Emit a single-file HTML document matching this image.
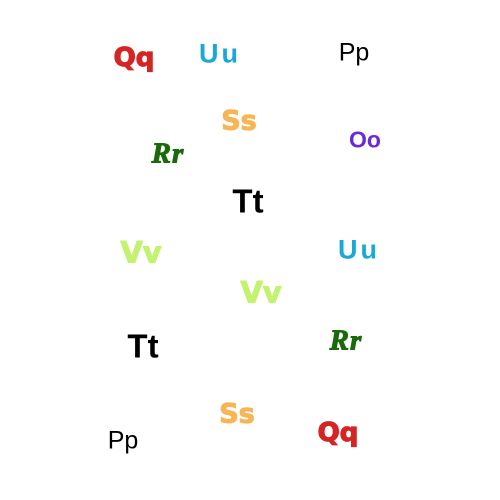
<!DOCTYPE html>
<html><head><meta charset="utf-8"><style>
html,body{margin:0;padding:0;background:#fff;}
#c{position:relative;width:500px;height:500px;overflow:hidden;font-family:"Liberation Sans","DejaVu Sans",sans-serif;}
.t{position:absolute;transform:translate(-50%,-50%);white-space:nowrap;line-height:1;}
.q{color:#d42424;font-weight:900;font-size:26px;font-family:"DejaVu Sans","Liberation Sans",sans-serif;-webkit-text-stroke:1.2px #d42424;}
.u{color:#19a9d8;font-weight:bold;font-size:27px;letter-spacing:3px;}
.p{color:#000;font-size:25px;}
.s{color:#f8b455;font-weight:900;font-size:27px;font-family:"DejaVu Sans","Liberation Sans",sans-serif;-webkit-text-stroke:1px #f8b455;}
.o{color:#6a2ad8;font-weight:bold;font-size:23px;}
.r{color:#1a6a0c;font-weight:bold;font-style:italic;font-size:29px;font-family:"Liberation Serif","DejaVu Serif",serif;-webkit-text-stroke:1px #1a6a0c;letter-spacing:1px;}
.tt{color:#000;font-weight:bold;font-size:33px;}
.v{color:#c2f26e;font-weight:900;font-size:29px;font-family:"DejaVu Sans","Liberation Sans",sans-serif;-webkit-text-stroke:1px #c2f26e;}
</style></head><body>
<div id="c">
<div class="t q" style="left:134px;top:58px">Qq</div>
<div class="t u" style="left:220px;top:54px">Uu</div>
<div class="t p" style="left:354px;top:53px">Pp</div>
<div class="t s" style="left:239px;top:121px">Ss</div>
<div class="t o" style="left:365px;top:140px">Oo</div>
<div class="t r" style="left:168px;top:154px">Rr</div>
<div class="t tt" style="left:248px;top:201px">Tt</div>
<div class="t v" style="left:141px;top:253px">Vv</div>
<div class="t u" style="left:359px;top:250px">Uu</div>
<div class="t v" style="left:261px;top:293px">Vv</div>
<div class="t tt" style="left:143px;top:346px">Tt</div>
<div class="t r" style="left:346px;top:341px">Rr</div>
<div class="t s" style="left:237px;top:414px">Ss</div>
<div class="t p" style="left:123px;top:441px">Pp</div>
<div class="t q" style="left:338px;top:433px">Qq</div>
</div>
</body></html>
